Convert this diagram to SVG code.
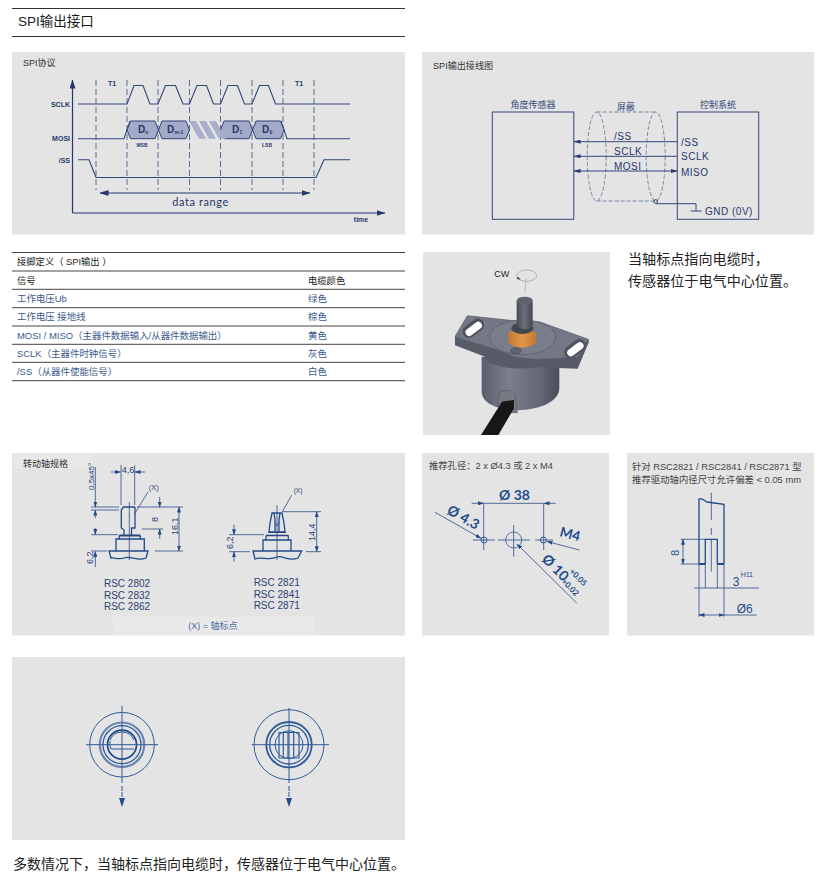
<svg xmlns="http://www.w3.org/2000/svg" width="820" height="876" viewBox="0 0 820 876">
<style>
.p{fill:#e4e4e4}
text{font-family:"Liberation Sans","Noto Sans CJK SC",sans-serif}
.zh{font-family:"Liberation Sans","Noto Sans CJK SC",sans-serif;fill:#222}
.din{font-family:"Lato","Noto Sans CJK SC",sans-serif;fill:#24386c;font-weight:700}
.navy{stroke:#33467a;fill:none;stroke-width:1.1}
.dash{stroke:#5c6d98;fill:none;stroke-width:1;stroke-dasharray:6 3}
.hex{fill:#a4abc9;stroke:#2f4277;stroke-width:1}
.wire{stroke:#33467a;fill:none;stroke-width:1}
.shield{stroke:#6c7ba2;fill:none;stroke-width:.9;stroke-dasharray:4 2}
.row{fill:#3c5a8e;font-size:9.450px}
.head{fill:#222;font-size:9.300px}
.rule{stroke:#444;stroke-width:1}
.dim{stroke:#2c4a84;fill:none;stroke-width:.8}
.thick{stroke:#1f4a8c;fill:none;stroke-width:1.3}
.lab{fill:#2c4274;font-size:10px}
.blue{fill:#1e4c8e;font-weight:700;font-family:"Lato",sans-serif}
.c{stroke:#2f5a9a;fill:none}
</style>
<defs>
<marker id="ah" markerWidth="7" markerHeight="4" refX="6.500" refY="2" orient="auto-start-reverse" markerUnits="userSpaceOnUse"><path d="M0 0L7 2L0 4Z" fill="#24386c"/></marker>
<marker id="big" markerWidth="9" markerHeight="6" refX="8.500" refY="3" orient="auto-start-reverse" markerUnits="userSpaceOnUse"><path d="M0 0L9 3L0 6Z" fill="#24386c"/></marker>
<marker id="d" markerWidth="6" markerHeight="4" refX="5.500" refY="2" orient="auto-start-reverse" markerUnits="userSpaceOnUse"><path d="M0 0L6 2L0 4Z" fill="#1f4a8c"/></marker>
<linearGradient id="body" x1="0" x2="1" y1="0" y2="0"><stop offset="0" stop-color="#5a5f6c"/><stop offset=".35" stop-color="#7a7f8b"/><stop offset=".75" stop-color="#636874"/><stop offset="1" stop-color="#4a4e5a"/></linearGradient>
<linearGradient id="shaft" x1="0" x2="1" y1="0" y2="0"><stop offset="0" stop-color="#474b55"/><stop offset=".5" stop-color="#6c707a"/><stop offset="1" stop-color="#43464f"/></linearGradient>
<linearGradient id="or" x1="0" x2="1" y1="0" y2="0"><stop offset="0" stop-color="#c47a2e"/><stop offset=".5" stop-color="#e0954c"/><stop offset="1" stop-color="#c27a30"/></linearGradient>
</defs>
<rect width="820" height="876" fill="#fff"/>

<g id="title">
<path d="M12 8.500H405M12 36.500H405" stroke="#333" stroke-width="1"/>
<text x="18" y="26" font-size="13.500" fill="#1a1a1a">SPI输出接口</text>
</g>

<g id="panel-timing">
<rect class="p" x="12" y="52" width="393" height="182.500"/>
<text x="23" y="65.500" font-size="9" fill="#333">SPI协议</text>
<g id="timing-axes" fill="none">
<path d="M72.500 213V80" stroke="#24386c" stroke-width="1.200" marker-end="url(#big)"/>
<path d="M72.500 213H385" stroke="#24386c" stroke-width="1.200" marker-end="url(#big)"/>
</g>
<path class="dash" d="M96 80V190M127 80V190M158 80V190M189.500 80V190M220.500 80V190M252 80V190M283 80V190M314 80V190"/>
<path class="navy" d="M78 104H127L134 85.500H143L150 104H158L165.500 85.500H175.500L183 104H189.500L197 85.500H206.500L213.500 104H220.500L228 85.500H237.500L244.500 104H252L259.500 85.500H268.500L275.500 104H350"/>
<path class="navy" d="M78 138.700H124L130 121M281 121L287 138.700H350"/>
<path class="hex" d="M127 130L130.500 121H155L158.500 130L155 138.700H130.500ZM158.500 130L162 121H186L189.500 130L186 138.700H162ZM220.500 130L224 121H249L252.500 130L249 138.700H224ZM252.500 130L256 121H280.500L284 130L280.500 138.700H256Z"/>
<path d="M189 121H196L206 138.700H199ZM199 121H206L216 138.700H209ZM209 121H216L221 130L226 138.700H219Z" fill="#a9afca"/>
<path class="navy" d="M78 159.700H89L96 177.500H316L324 159.700H350"/>
<path d="M100 193H310" stroke="#24386c" stroke-width="1" fill="none" marker-start="url(#big)" marker-end="url(#big)"/>
<text class="din" x="200.500" y="205.500" font-size="11" text-anchor="middle" letter-spacing=".6" style="font-weight:400">data range</text>
<g class="din" font-size="7" text-anchor="end">
<text x="70" y="106.500">SCLK</text><text x="70" y="141">MOSI</text><text x="70" y="162.500">/SS</text>
</g>
<g class="din" font-size="7" text-anchor="middle">
<text x="112" y="85.500">T1</text><text x="299" y="85.500">T1</text>
<text x="361" y="221.500">time</text>
</g>
<g class="din" font-size="5" text-anchor="middle"><text x="142" y="147">MSB</text><text x="267" y="147">LSB</text></g>
<g class="din" font-size="10">
<text x="138" y="132.500">D</text><text x="167" y="132.500">D</text><text x="232" y="132.500">D</text><text x="262" y="132.500">D</text>
</g>
<g class="din" font-size="5">
<text x="145" y="133.500">n</text><text x="174.500" y="133.500">m-1</text><text x="239.500" y="133.500">1</text><text x="269.500" y="133.500">0</text>
</g>
</g>

<g id="panel-wiring">
<rect class="p" x="422" y="52" width="392" height="182.500"/>
<text x="433" y="69" font-size="9.100" fill="#333">SPI输出接线图</text>
</g>
<g id="node-sensor">
<rect x="492.300" y="112" width="81.500" height="107.300" fill="none" stroke="#33467a" stroke-width="1"/>
<text x="533" y="107.500" font-size="9" fill="#33467a" text-anchor="middle">角度传感器</text>
</g>
<g id="node-shield">
<ellipse class="shield" cx="596.700" cy="156.500" rx="9.500" ry="44.500"/>
<ellipse class="shield" cx="655.700" cy="156.500" rx="9.500" ry="44.500"/>
<path class="shield" d="M596.700 112H655.700M596.700 201H655.700"/>
<text x="626" y="109.500" font-size="9" fill="#33467a" text-anchor="middle">屏蔽</text>
</g>
<g id="node-controller">
<rect x="677.300" y="112" width="81.400" height="107.300" fill="none" stroke="#33467a" stroke-width="1"/>
<text x="718" y="107.500" font-size="9" fill="#33467a" text-anchor="middle">控制系统</text>
<g class="din" font-size="10" letter-spacing=".5" style="font-weight:400"><text x="681" y="145.500">/SS</text><text x="681" y="160">SCLK</text><text x="681" y="175.500">MISO</text><text x="705" y="214.500">GND (0V)</text></g>
</g>
<g id="connectors">
<path class="wire" d="M677.300 141.700H574" stroke-width="1.200" marker-end="url(#ah)"/>
<path class="wire" d="M677.300 156.300H574" marker-end="url(#ah)"/>
<path class="wire" d="M677.300 171H574" marker-start="url(#ah)" marker-end="url(#ah)"/>
<circle cx="655.700" cy="201.500" r="1.800" fill="none" stroke="#24386c" stroke-width="1"/>
<path class="wire" d="M655.700 203.700H696V211M690.700 211H701.700" stroke-width="1.100"/>
<g class="din" font-size="10" letter-spacing=".5" style="font-weight:400"><text x="614" y="140">/SS</text><text x="614" y="154.500">SCLK</text><text x="614" y="170">MOSI</text></g>
</g>

<g id="pin-table">
<path class="rule" d="M12 252.500H405" stroke-width="1.200"/><path class="rule" d="M12 271H405M12 289.300H405M12 307.700H405M12 326H405M12 344.300H405M12 362.300H405M12 380.700H405"/>
<text class="head" x="17" y="265">接脚定义（ SPI输出 ）</text>
<text class="head" x="17" y="284">信号</text><text class="head" x="308" y="284">电缆颜色</text>
<text class="row" x="17" y="302">工作电压Ub</text><text class="row" x="308" y="302">绿色</text>
<text class="row" x="17" y="320">工作电压 接地线</text><text class="row" x="308" y="320">棕色</text>
<text class="row" x="17" y="338.500">MOSI / MISO（主器件数据输入/从器件数据输出）</text><text class="row" x="308" y="338.500">黄色</text>
<text class="row" x="17" y="356.500">SCLK（主器件时钟信号）</text><text class="row" x="308" y="356.500">灰色</text>
<text class="row" x="17" y="375">/SS（从器件使能信号）</text><text class="row" x="308" y="375">白色</text>
</g>

<g id="photo">
<rect class="p" x="423" y="252" width="187" height="183"/>
<g transform="translate(440 260) scale(.3333)">
<path d="M125 290V395C125 430 180 455 245 450C310 447 358 420 358 385V300Z" fill="url(#body)"/>
<path d="M45 230V256L135 290V300C170 325 230 330 295 322L413 326L447 245L445 238L295 298L150 262Z" fill="#565b67"/>
<path d="M45 230L82 167L220 182L300 186L445 238L413 292L295 298L230 293L150 262Z" fill="#737884" stroke="#565a66" stroke-width="2"/>
<ellipse cx="248" cy="232" rx="100" ry="52" fill="#787d89" stroke="#555a65" stroke-width="2"/>
<g transform="rotate(-37 100 205)"><rect x="64" y="186" width="72" height="38" rx="19" fill="#4f535e"/><rect x="72" y="196" width="56" height="22" rx="11" fill="#fff"/></g>
<g transform="rotate(-37 405 266)"><rect x="369" y="247" width="72" height="38" rx="19" fill="#4f535e"/><rect x="377" y="257" width="56" height="22" rx="11" fill="#fff"/></g>
<ellipse cx="228" cy="272" rx="16" ry="9" fill="#606571" stroke="#454953" stroke-width="2"/>
<path d="M205 215V245C215 268 275 268 288 245V215Z" fill="url(#or)"/>
<ellipse cx="247" cy="205" rx="33" ry="17" fill="#43464f"/>
<path d="M230 122V195C240 212 270 212 278 195V122Z" fill="url(#shaft)"/>
<ellipse cx="254" cy="122" rx="24" ry="12" fill="#5f636d"/>
<path d="M178 398C190 388 215 390 225 400L232 458H212L205 425H190L172 440Z" fill="#757984" stroke="#555963" stroke-width="2"/>
<path d="M186 425L222 420L222 445L175 525H123Z" fill="#171717"/>
<ellipse cx="260" cy="47" rx="30" ry="17" fill="none" stroke="#999" stroke-width="2"/>
<path d="M258 55L255 100" stroke="#aaa" stroke-width="2"/>
<path d="M232 50L242 58L232 58Z" fill="#222"/>
<text x="163" y="51" font-size="27" fill="#222">CW</text>
</g>
</g>

<g id="note-top">
<text class="zh" x="628" y="264" font-size="14.100">当轴标点指向电缆时，</text>
<text class="zh" x="628" y="286" font-size="14.100">传感器位于电气中心位置。</text>
</g>

<g id="panel-shaft">
<rect class="p" x="12" y="453" width="393" height="182.500"/>
<rect x="13" y="453" width="79" height="16" fill="#e8e8e8"/>
<rect x="113" y="617" width="201" height="18" fill="#e9e9e9"/>
<text x="23" y="467" font-size="9" fill="#333">转动轴规格</text>
<text x="213" y="629" font-size="9" fill="#4a6a9c" text-anchor="middle">(X) = 轴标点</text>
</g>
<g id="shaft-a">
<path class="thick" d="M121.300 510L123.500 507H135M121.300 510V528L124 530V535M135 507V528H131.500V535"/>
<path d="M119.300 535.500H140.300" stroke="#2a4478" stroke-width="2"/>
<path class="thick" d="M119.300 535.500V539M140.300 535.500V539M116 539H144.300V551H116ZM109 551H148L146 558C138 562 130 555 124 558C118 560 112 557 111 558Z" stroke-width="1"/>
<path class="dim" d="M129.300 502V560"/>
<path class="dim" d="M121 465V505M134.700 465V505"/>
<path class="dim" d="M111 472H120.500" marker-end="url(#d)"/><path class="dim" d="M145 472H135" marker-end="url(#d)"/>
<path class="dim" d="M95.300 467V507" marker-end="url(#d)"/><path class="dim" d="M95.300 518V510" marker-end="url(#d)"/>
<path class="dim" d="M95.300 528V534.500" marker-end="url(#d)"/><path class="dim" d="M95.300 567V551.500" marker-end="url(#d)"/>
<path class="dim" d="M91 507H119M91 510H119M91 534.700H118M91 551H107M155 551H183M137 507H183M142 529H163"/>
<path class="dim" d="M148 492L135 513"/>
<path class="dim" d="M159.700 497V507" marker-end="url(#d)"/><path class="dim" d="M159.700 539V529" marker-end="url(#d)"/>
<path class="dim" d="M179 517V507" marker-end="url(#d)"/><path class="dim" d="M179 517V551" marker-end="url(#d)"/>
<text x="128" y="473" font-size="9" fill="#2c4274" text-anchor="middle">4,6</text>
<text x="153.700" y="490" font-size="7.500" fill="#2c4274" text-anchor="middle">(X)</text>
<text transform="translate(94 490) rotate(-90)" font-size="8" fill="#2c4274">0,5x45°</text>
<text transform="translate(93 564) rotate(-90)" font-size="9" fill="#2c4274">6,2</text>
<text transform="translate(158 522) rotate(-90)" font-size="9" fill="#2c4274">8</text>
<text transform="translate(177.500 535) rotate(-90)" font-size="9" fill="#2c4274">16,1</text>
<g class="lab" text-anchor="middle"><text x="127" y="587">RSC 2802</text><text x="127" y="598.500">RSC 2832</text><text x="127" y="609.500">RSC 2862</text></g>
</g>
<g id="shaft-b">
<path class="thick" d="M272 513H282L284 523L285 532H269L270 523ZM274 513L275 520V532M280 513L279 520V532"/>
<path class="dim" d="M275 522L277 526L279 522"/>
<path d="M268 532.500H286" stroke="#2a4478" stroke-width="1"/>
<path d="M266 535.500H288.300" stroke="#2a4478" stroke-width="1.500"/>
<path class="thick" d="M266 535.500V540M288.300 535.500V540M263 540H291V551H263ZM253 551H301.700L298 558C290 562 282 555 277 557C270 561 260 556 255 559Z" stroke-width="1"/>
<path class="dim" d="M277 505V560"/>
<path class="dim" d="M291.700 495L282.300 511.700"/>
<path class="dim" d="M282.300 511.700H321M306 551.700H321M229 534.700H264M229 551.700H250"/>
<path class="dim" d="M316.700 530V511.700" marker-end="url(#d)"/><path class="dim" d="M316.700 530V551.700" marker-end="url(#d)"/>
<path class="dim" d="M234 524.700V534.700" marker-end="url(#d)"/><path class="dim" d="M234 561.700V551.700" marker-end="url(#d)"/>
<text x="298" y="493" font-size="6.500" fill="#2c4274" text-anchor="middle">(X)</text>
<text transform="translate(315 541) rotate(-90)" font-size="9" fill="#2c4274">14,4</text>
<text transform="translate(232.500 549) rotate(-90)" font-size="9" fill="#2c4274">6,2</text>
<g class="lab" text-anchor="middle"><text x="276.700" y="586">RSC 2821</text><text x="276.700" y="597.500">RSC 2841</text><text x="276.700" y="609">RSC 2871</text></g>
</g>

<g id="panel-holes">
<rect class="p" x="422" y="453" width="187" height="182.500"/>
<text x="429" y="469" font-size="9.300" fill="#444">推荐孔径：2 x Ø4.3 或 2 x M4</text>
<path class="dim" d="M483.700 503V550M543.700 503V550M483.700 503.300H543.700"/>
<path class="dim" d="M471.700 503.300H483.500" marker-end="url(#d)"/><path class="dim" d="M555.700 503.300H544" marker-end="url(#d)"/>
<path class="dim" d="M472.700 540H495M498 540H530M535 540H553M513.700 525V556.700"/>
<circle class="c" cx="484" cy="540" r="3" stroke-width="1"/><circle class="c" cx="543.300" cy="540" r="3" stroke-width="1"/><circle class="c" cx="513.700" cy="540" r="8" stroke-width=".8"/>
<path class="dim" d="M435 512.300L481 538.300" marker-end="url(#d)"/>
<path class="dim" d="M579.300 550L547 541.500" marker-end="url(#d)"/>
<path class="dim" d="M576.700 603L517 544" marker-end="url(#d)"/>
<text class="blue" x="499" y="500" font-size="14">Ø 38</text>
<text class="blue" transform="translate(446 513) rotate(30)" font-size="14">Ø 4.3</text>
<text class="blue" transform="translate(559 536) rotate(15)" font-size="13.500">M4</text>
<text class="blue" transform="translate(541 560) rotate(45)" font-size="14">Ø 10</text>
<text class="blue" transform="translate(569 572) rotate(45)" font-size="8">+0.05</text>
<text class="blue" transform="translate(561 582) rotate(45)" font-size="8">+0.02</text>
</g>

<g id="panel-bore">
<rect class="p" x="627" y="453" width="187" height="182.500"/>
<text x="632" y="469.500" font-size="9.300" fill="#444">针对 RSC2821 / RSC2841 / RSC2871 型</text>
<text x="632" y="482.500" font-size="9.400" fill="#444">推荐驱动轴内径尺寸允许偏差 &lt; 0.05 mm</text>
<path class="thick" d="M699 564V499C703 498 705 501 707 502L724 504.300V564M705.300 564V539.300H717.300V564"/>
<path d="M699 564H705.300M717.300 564H724" stroke="#1f4a8c" stroke-width="2"/>
<path class="dim" d="M711.300 492.700V520M711.300 528V535M711.300 540V571.700"/>
<path class="dim" d="M680.700 539.300H705M680.700 564H699M705.300 564V588M717.300 564V588M694 588H759M699 564V616.700M724 564V616.700M724 615H756.700"/>
<path class="dim" d="M683 552V539.300" marker-end="url(#d)"/><path class="dim" d="M683 552V564" marker-end="url(#d)"/>
<path class="dim" d="M712 615H699" marker-end="url(#d)"/><path class="dim" d="M712 615H724" marker-end="url(#d)"/>
<text transform="translate(679 556) rotate(-90)" font-size="11" fill="#1e4c8e">8</text>
<text x="732.700" y="586" font-size="12" fill="#1e4c8e">3</text>
<text x="740.700" y="576.700" font-size="7" fill="#1e4c8e">H11</text>
<text x="736.700" y="613" font-size="12" fill="#1e4c8e">Ø6</text>
</g>

<g id="panel-views">
<rect class="p" x="12" y="657" width="393" height="183"/>
</g>
<g id="view-left">
<circle class="c" cx="122" cy="744.700" r="32.300" stroke-width="1"/>
<circle cx="122" cy="744.700" r="22.200" fill="none" stroke="#6a86b4" stroke-width="2.200"/>
<circle class="c" cx="122" cy="744.700" r="19" stroke-width="1.300"/>
<circle cx="122" cy="744.700" r="14.500" fill="none" stroke="#1f4a8c" stroke-width="1.700"/>
<path class="c" d="M110 740A13 13 0 0 1 134 740M111 749H134M111 749A13 13 0 0 1 110 741" stroke-width="1"/>
<path class="c" d="M86 744.700H158M122 706V783" stroke-width="1"/>
<path class="c" d="M122 786V798" stroke-width="1" stroke-dasharray="5 1"/>
<path d="M119 798H125L122 807Z" fill="#1f4a8c"/>
</g>
<g id="view-right">
<circle class="c" cx="289" cy="744.700" r="35" stroke-width="1"/>
<circle cx="289" cy="744.700" r="22.700" fill="none" stroke="#2f5a9a" stroke-width="1.800"/>
<circle class="c" cx="289" cy="744.700" r="19.300" stroke-width="1.300"/>
<circle class="c" cx="289" cy="744.700" r="14" stroke-width="1"/>
<path class="c" d="M279 732.500H299V758H279ZM283.300 732.500V758M288 732.500V758M293.700 732.500V758" stroke-width="1.200"/>
<path class="c" d="M251.700 744.700H329M289 708V783" stroke-width="1"/>
<path class="c" d="M289 786V798" stroke-width="1" stroke-dasharray="5 1"/>
<path d="M286 798H292L289 807Z" fill="#1f4a8c"/>
</g>
<text class="zh" x="13" y="869" font-size="14">多数情况下，当轴标点指向电缆时，传感器位于电气中心位置。</text>
</svg>
